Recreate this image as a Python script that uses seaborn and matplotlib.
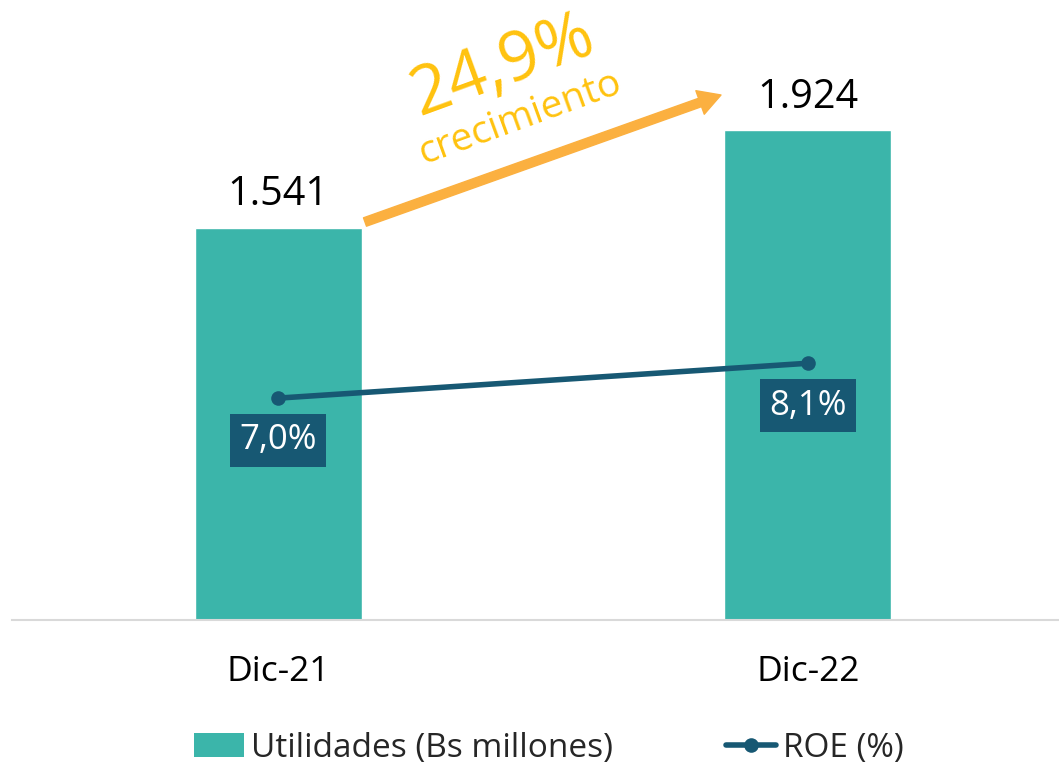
import matplotlib
matplotlib.use("Agg")
import matplotlib.pyplot as plt
import seaborn as sns
from matplotlib.patches import Patch
from matplotlib.lines import Line2D

periods = ["Dic-21", "Dic-22"]
utilidades = [1541, 1924]
utilidades_labels = ["1.541", "1.924"]
roe = [7.0, 8.1]
roe_labels = ["7,0%", "8,1%"]
growth_label = "24,9%"
growth_sub = "crecimiento"
legend_labels = ["Utilidades (Bs millones)", "ROE (%)"]

TEAL = "#3BB5AA"
DARK = "#175873"
ORANGE = "#FBB040"
GOLD = "#FFC20E"

sns.set_style("white")
plt.rcParams["font.family"] = ["Open Sans", "DejaVu Sans"]

fig = plt.figure(figsize=(10.59, 7.66), dpi=100)
ax = fig.add_axes([12 / 1059, 146 / 766, 1 - 12 / 1059, 600 / 766])

sns.barplot(x=periods, y=utilidades, color=TEAL, saturation=1, width=0.315, ax=ax)
ax.set_xlim(-0.5025, 1.4745)
ax.set_ylim(0, 2358)
ax.set_yticks([])
ax.set_ylabel("")
ax.set_xlabel("")
for s in ["top", "right", "left"]:
    ax.spines[s].set_visible(False)
ax.spines["bottom"].set_color("#D9D9D9")
ax.spines["bottom"].set_linewidth(1.5)
ax.tick_params(axis="x", length=0, pad=25, labelsize=25.5, colors="black")

for i, (v, lab) in enumerate(zip(utilidades, utilidades_labels)):
    ax.annotate(lab, (i, v), xytext=(0, 16.5), textcoords="offset points",
                ha="center", va="baseline", fontsize=28.5, color="black")

ax2 = ax.twinx()
sns.lineplot(x=periods, y=roe, ax=ax2, color=DARK, lw=4, marker="o",
             markersize=10.5, markeredgewidth=0)
ax2.set_ylim(0, 18.93)
ax2.set_xlim(-0.5025, 1.4745)
ax2.set_yticks([])
ax2.set_ylabel("")
for s in ax2.spines.values():
    s.set_visible(False)

for i, (v, lab) in enumerate(zip(roe, roe_labels)):
    ax2.annotate(lab, (i, v), xytext=(0, -30.5), textcoords="offset points",
                 ha="center", va="center", fontsize=25, color="white",
                 bbox=dict(boxstyle="square,pad=0.27", fc=DARK, ec="none"))

# growth arrow
ax.annotate("", xy=(721, 766 - 95), xytext=(365, 766 - 222),
            xycoords="figure pixels", textcoords="figure pixels",
            arrowprops=dict(arrowstyle="simple,head_length=0.4,head_width=0.45,tail_width=0.16",
                            mutation_scale=40, color=ORANGE, shrinkA=0, shrinkB=0))
fig.text(503 / 1059, 1 - 66 / 766, growth_label, rotation=20, fontsize=49, color=GOLD,
         ha="center", va="center", rotation_mode="anchor")
fig.text(521 / 1059, 1 - 118 / 766, growth_sub, rotation=20, fontsize=28, color=GOLD,
         ha="center", va="center", rotation_mode="anchor")

handles = [Patch(facecolor=TEAL, edgecolor="none"),
           Line2D([], [], color=DARK, lw=4, marker="o", markersize=10.5, markeredgewidth=0)]
fig.legend(handles, legend_labels, loc="center", bbox_to_anchor=(0.518, 18 / 766),
           ncol=2, frameon=False, fontsize=24, handlelength=1.5, handletextpad=0.2,
           columnspacing=3.4)

fig.savefig("out.png", dpi=100)
